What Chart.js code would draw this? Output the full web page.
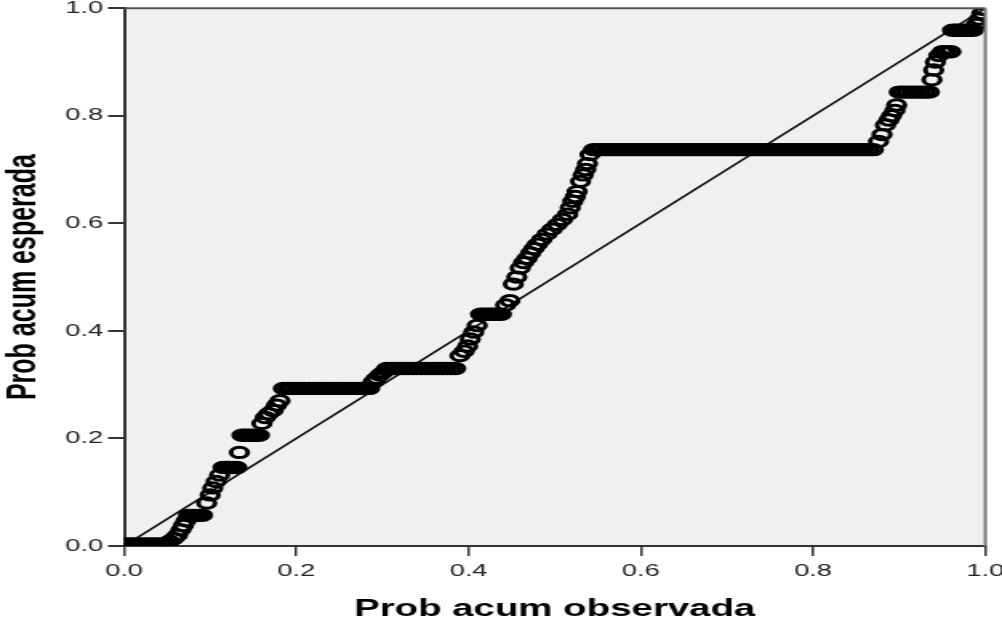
<!DOCTYPE html>
<html>
<head>
<meta charset="utf-8">
<title>Gráfico P-P</title>
<script src="https://cdn.jsdelivr.net/npm/chart.js@4.4.1/dist/chart.umd.min.js"></script>
<style>
  html, body { margin: 0; padding: 0; background: #fff; overflow: hidden; }
  /* the chart is laid out narrow and widened horizontally */
  #stage { width: 626px; height: 625px; transform: scaleX(1.6006); transform-origin: 0 0; }
</style>
</head>
<body>
<div id="stage"><canvas id="pp" width="626" height="625"></canvas></div>
<script>
// Probabilidad acumulada observada (eje X)
const observedProb = [
  0.003, 0.008, 0.013, 0.018, 0.023, 0.028, 0.033, 0.038, 0.043, 0.048,
  0.053, 0.058, 0.062, 0.066, 0.069, 0.072,
  0.075, 0.079, 0.083, 0.087, 0.091,
  0.096, 0.100, 0.103, 0.107, 0.111,
  0.115, 0.119, 0.123, 0.127, 0.131,
  0.134,
  0.137, 0.141, 0.145, 0.149, 0.153, 0.157,
  0.160, 0.164, 0.168, 0.173, 0.177, 0.181,
  0.185, 0.190, 0.195, 0.200, 0.205, 0.210, 0.215, 0.220, 0.225, 0.230, 0.235,
  0.240, 0.245, 0.250, 0.255, 0.260, 0.265, 0.270, 0.275, 0.280, 0.285,
  0.289, 0.293, 0.297, 0.301,
  0.305, 0.310, 0.315, 0.320, 0.325, 0.330, 0.335, 0.340, 0.345,
  0.350, 0.355, 0.360, 0.365, 0.370, 0.375, 0.380, 0.385,
  0.390, 0.395, 0.399, 0.402, 0.406, 0.410,
  0.414, 0.418, 0.422, 0.426, 0.430, 0.434, 0.438,
  0.443, 0.448, 0.452, 0.456, 0.460, 0.464, 0.468, 0.472, 0.476, 0.480, 0.485, 0.491, 0.497,
  0.503, 0.509, 0.515, 0.518, 0.521, 0.524, 0.526, 0.530, 0.533, 0.536, 0.538, 0.541,
  0.545, 0.550, 0.555, 0.560, 0.565, 0.570, 0.575, 0.580, 0.585, 0.590, 0.595,
  0.600, 0.605, 0.610, 0.615, 0.620, 0.625, 0.630, 0.635, 0.640, 0.645, 0.650,
  0.655, 0.660, 0.665, 0.670, 0.675, 0.680, 0.685, 0.690, 0.695, 0.700, 0.705,
  0.710, 0.715, 0.720, 0.725, 0.730, 0.735, 0.740, 0.745, 0.750, 0.755, 0.760,
  0.765, 0.770, 0.775, 0.780, 0.785, 0.790, 0.795, 0.800, 0.805, 0.810, 0.815,
  0.820, 0.825, 0.830, 0.835, 0.840, 0.845, 0.850, 0.855, 0.860, 0.865, 0.870,
  0.876, 0.880, 0.884, 0.888, 0.891, 0.895, 0.897,
  0.900, 0.905, 0.910, 0.915, 0.920, 0.925, 0.930, 0.935,
  0.938, 0.940, 0.942, 0.946,
  0.950, 0.955, 0.960,
  0.962, 0.966, 0.970, 0.974, 0.978, 0.982, 0.986,
  0.990, 0.993, 0.996, 0.998
];

// Probabilidad acumulada esperada (eje Y)
const expectedProb = [
  0.004, 0.004, 0.004, 0.004, 0.004, 0.004, 0.004, 0.004, 0.004, 0.004,
  0.009, 0.014, 0.020, 0.030, 0.038, 0.047,
  0.057, 0.057, 0.057, 0.057, 0.057,
  0.080, 0.095, 0.108, 0.120, 0.132,
  0.146, 0.146, 0.146, 0.146, 0.146,
  0.174,
  0.206, 0.206, 0.206, 0.206, 0.206, 0.206,
  0.228, 0.239, 0.246, 0.252, 0.262, 0.270,
  0.293, 0.293, 0.293, 0.293, 0.293, 0.293, 0.293, 0.293, 0.293, 0.293, 0.293,
  0.293, 0.293, 0.293, 0.293, 0.293, 0.293, 0.293, 0.293, 0.293, 0.293,
  0.305, 0.312, 0.318, 0.323,
  0.330, 0.330, 0.330, 0.330, 0.330, 0.330, 0.330, 0.330, 0.330,
  0.330, 0.330, 0.330, 0.330, 0.330, 0.330, 0.330, 0.330,
  0.354, 0.362, 0.372, 0.385, 0.398, 0.410,
  0.431, 0.431, 0.431, 0.431, 0.431, 0.431, 0.431,
  0.448, 0.456, 0.487, 0.500, 0.517, 0.527, 0.535, 0.545, 0.553, 0.561, 0.570, 0.580, 0.589,
  0.598, 0.607, 0.617, 0.629, 0.641, 0.650, 0.659, 0.678, 0.690, 0.700, 0.711, 0.728,
  0.737, 0.737, 0.737, 0.737, 0.737, 0.737, 0.737, 0.737, 0.737, 0.737, 0.737,
  0.737, 0.737, 0.737, 0.737, 0.737, 0.737, 0.737, 0.737, 0.737, 0.737, 0.737,
  0.737, 0.737, 0.737, 0.737, 0.737, 0.737, 0.737, 0.737, 0.737, 0.737, 0.737,
  0.737, 0.737, 0.737, 0.737, 0.737, 0.737, 0.737, 0.737, 0.737, 0.737, 0.737,
  0.737, 0.737, 0.737, 0.737, 0.737, 0.737, 0.737, 0.737, 0.737, 0.737, 0.737,
  0.737, 0.737, 0.737, 0.737, 0.737, 0.737, 0.737, 0.737, 0.737, 0.737, 0.737,
  0.752, 0.765, 0.783, 0.792, 0.800, 0.810, 0.820,
  0.844, 0.844, 0.844, 0.844, 0.844, 0.844, 0.844, 0.844,
  0.867, 0.885, 0.900, 0.912,
  0.919, 0.919, 0.919,
  0.959, 0.959, 0.959, 0.959, 0.959, 0.959, 0.959,
  0.970, 0.980, 0.990, 0.998
];

// Recta de referencia (distribución teórica)
const diagonalX = [0, 1];
const diagonalY = [0, 1];

// Marcas de los ejes
const axisTicks = [0.0, 0.2, 0.4, 0.6, 0.8, 1.0];

const FONT = '"Liberation Sans", Arial, Helvetica, sans-serif';

const ppPoints = observedProb.map((x, i) => ({ x: x, y: expectedProb[i] }));
const diagonal = diagonalX.map((x, i) => ({ x: x, y: diagonalY[i] }));

// Grey plot background plus the top and right frame lines
const plotFrame = {
  id: 'plotFrame',
  beforeDraw(chart) {
    const { ctx, chartArea: a, width, height } = chart;
    ctx.save();
    ctx.fillStyle = '#ffffff';
    ctx.fillRect(0, 0, width, height);
    ctx.fillStyle = '#f0f0f0';
    ctx.fillRect(a.left, a.top, a.right - a.left, a.bottom - a.top);
    ctx.restore();
  },
  afterDraw(chart) {
    const { ctx, chartArea: a } = chart;
    ctx.save();
    ctx.lineWidth = 2;
    ctx.strokeStyle = '#555555';
    ctx.beginPath();
    ctx.moveTo(a.left, a.top);
    ctx.lineTo(a.right, a.top);
    ctx.stroke();
    ctx.strokeStyle = '#7a7a7a';
    ctx.beginPath();
    ctx.moveTo(a.right, a.top);
    ctx.lineTo(a.right, a.bottom);
    ctx.stroke();
    ctx.restore();
  }
};

const useTicks = (scale) => { scale.ticks = axisTicks.map(v => ({ value: v })); };

new Chart(document.getElementById('pp'), {
  type: 'scatter',
  data: {
    datasets: [
      {
        label: 'Observado',
        data: ppPoints,
        pointStyle: 'circle',
        pointRadius: 5.2,
        pointBorderWidth: 3,
        pointBorderColor: '#000000',
        pointBackgroundColor: 'rgba(0,0,0,0)',
        showLine: false,
        order: 1
      },
      {
        type: 'line',
        label: 'Diagonal',
        data: diagonal,
        borderColor: '#111111',
        borderWidth: 1.6,
        pointRadius: 0,
        fill: false,
        order: 2
      }
    ]
  },
  options: {
    responsive: false,
    animation: false,
    devicePixelRatio: 1,
    layout: { padding: { left: 0, right: 10.4, top: 6, bottom: 0 } },
    plugins: { legend: { display: false }, tooltip: { enabled: false } },
    scales: {
      x: {
        type: 'linear',
        position: 'bottom',
        min: 0,
        max: 1,
        afterBuildTicks: useTicks,
        afterFit(s) { s.height = 79; s.paddingLeft = 0; s.paddingRight = 0; },
        ticks: {
          callback: v => Number(v).toFixed(1),
          font: { family: FONT, size: 17 },
          color: '#222222',
          padding: 5,
          maxRotation: 0,
          autoSkip: false
        },
        grid: { drawOnChartArea: false, drawTicks: true, tickLength: 10, color: '#333333', lineWidth: 1.5 },
        border: { display: true, color: '#333333', width: 2 },
        title: {
          display: true,
          text: 'Prob acum observada',
          font: { family: FONT, size: 24, weight: 'bold' },
          color: '#000000',
          padding: { top: 0, bottom: 1 }
        }
      },
      y: {
        type: 'linear',
        position: 'left',
        min: 0,
        max: 1,
        afterBuildTicks: useTicks,
        afterFit(s) { s.width = 77.5; s.paddingTop = 0; s.paddingBottom = 0; },
        ticks: {
          callback: v => Number(v).toFixed(1),
          font: { family: FONT, size: 17 },
          color: '#222222',
          padding: 3,
          autoSkip: false
        },
        grid: { drawOnChartArea: false, drawTicks: true, tickLength: 10, color: '#333333', lineWidth: 2 },
        border: { display: true, color: '#333333', width: 2 },
        title: {
          display: true,
          text: 'Prob acum esperada',
          font: { family: FONT, size: 25, weight: 'bold' },
          color: '#000000',
          padding: { top: 0, bottom: 0 }
        }
      }
    }
  },
  plugins: [plotFrame]
});
</script>
</body>
</html>
